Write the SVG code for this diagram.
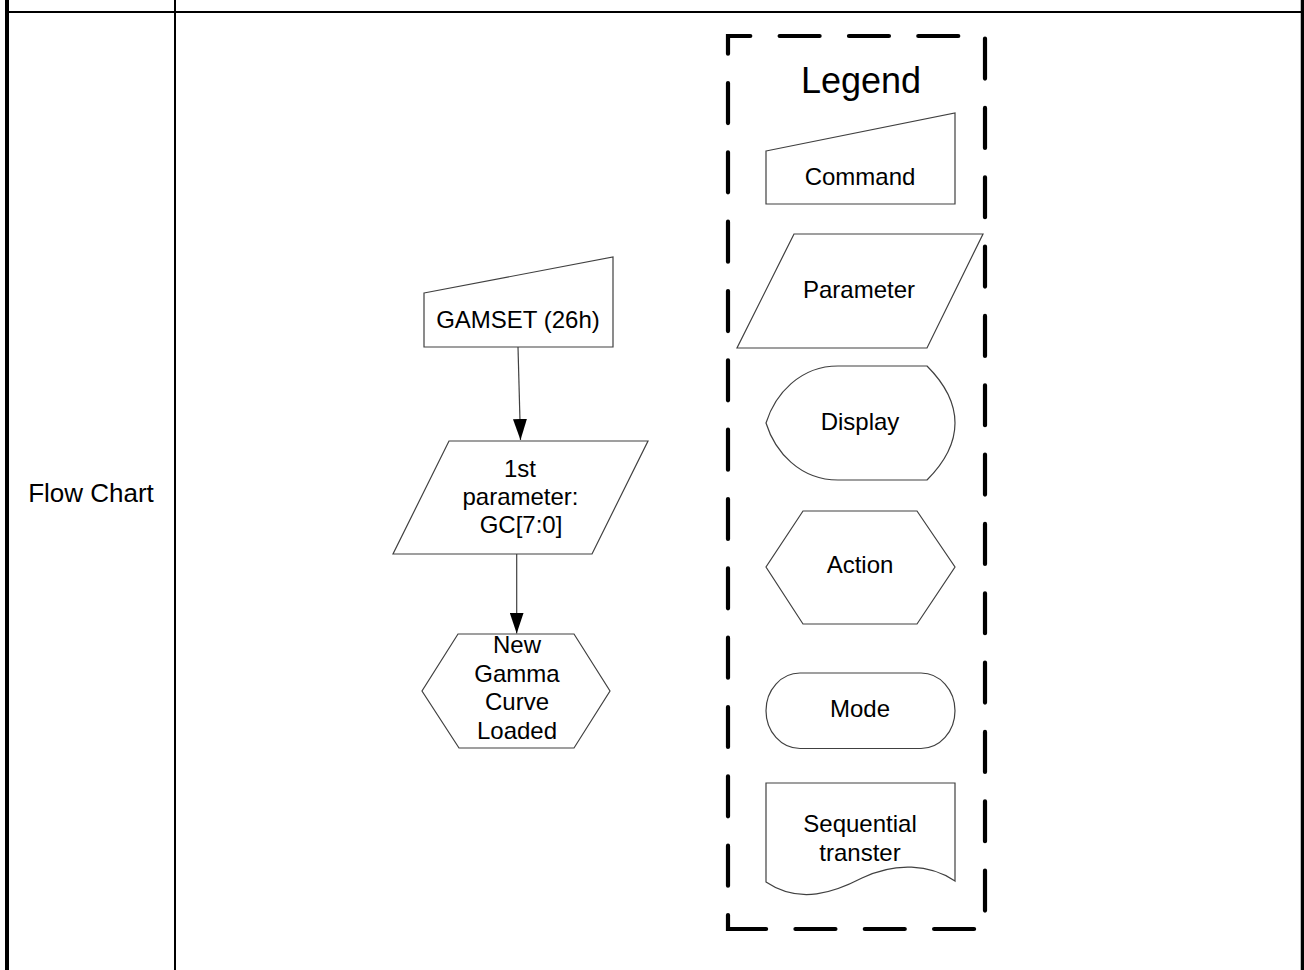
<svg xmlns="http://www.w3.org/2000/svg" width="1304" height="970" viewBox="0 0 1304 970">
<style>
text{font-family:"Liberation Sans",Arial,sans-serif;font-size:24px;fill:#000;text-anchor:middle}
.shape{fill:#fff;stroke:#404040;stroke-width:1.2}
.conn{stroke:#404040;stroke-width:1.2;fill:none}
.tbl{stroke:#000;fill:none}
</style>
<defs>
<marker id="arr" markerWidth="21" markerHeight="14" refX="21" refY="7" orient="auto" markerUnits="userSpaceOnUse" viewBox="0 0 21 14">
<path d="M0,0 L21,7 L0,14 Z" fill="#000"/>
</marker>
</defs>
<rect width="1304" height="970" fill="#fff"/>
<g id="table">
<line class="tbl" x1="7" y1="0" x2="7" y2="970" stroke-width="4"/>
<line class="tbl" x1="7" y1="12" x2="1302" y2="12" stroke-width="2.2"/>
<line class="tbl" x1="175" y1="0" x2="175" y2="970" stroke-width="2"/>
<line class="tbl" x1="1302.5" y1="0" x2="1302.5" y2="970" stroke-width="3.5"/>
<text x="91" y="502" style="font-size:26px">Flow Chart</text>
</g>
<g id="connectors">
<line class="conn" x1="518" y1="347" x2="520.5" y2="440" marker-end="url(#arr)"/>
<line class="conn" x1="516.7" y1="554" x2="516.7" y2="633.5" marker-end="url(#arr)"/>
</g>
<g id="gamset">
<polygon class="shape" points="424,293 613,257 613,347 424,347"/>
<text x="518" y="328">GAMSET (26h)</text>
</g>
<g id="param1">
<polygon class="shape" points="449,441 648,441 592,554 393,554"/>
<text x="520" y="477">1st</text>
<text x="520.5" y="505">parameter:</text>
<text x="521" y="533">GC[7:0]</text>
</g>
<g id="gammaLoaded">
<polygon class="shape" points="458,634 574,634 610,691 574,748 459,748 422,691"/>
<text x="517" y="653">New</text>
<text x="517" y="682">Gamma</text>
<text x="517" y="710">Curve</text>
<text x="517" y="739">Loaded</text>
</g>
<g id="legend">
<path d="M728,929 V36 H985 V929 Z" fill="none" stroke="#000" stroke-width="4.2" stroke-linecap="round" stroke-dasharray="40 29.33" stroke-dashoffset="26"/>
<text x="861" y="93" style="font-size:36px">Legend</text>
</g>
<g id="legendCommand">
<polygon class="shape" points="766,151 955,113 955,204 766,204"/>
<text x="860" y="185">Command</text>
</g>
<g id="legendParameter">
<polygon class="shape" points="794,234 983,234 927,348 737,348"/>
<text x="859" y="298">Parameter</text>
</g>
<g id="legendDisplay">
<path class="shape" d="M838,366 L927,366 C945,384 955,402 955,423 C955,444 945,462 927,480 L838,480 C800,480 775,452 766,423 C775,394 800,366 838,366 Z"/>
<text x="860" y="430">Display</text>
</g>
<g id="legendAction">
<polygon class="shape" points="803,511 917,511 955,567 917,624 803,624 766,567"/>
<text x="860" y="573">Action</text>
</g>
<g id="legendMode">
<rect class="shape" x="766" y="673" width="189" height="75.5" rx="34" ry="37.75"/>
<text x="860" y="717">Mode</text>
</g>
<g id="legendSequential">
<path class="shape" d="M766,783 H955 V881 C930,864 895,862 862,878 C835,892 800,905 766,882 Z"/>
<text x="860" y="832">Sequential</text>
<text x="860" y="861">transter</text>
</g>
</svg>
